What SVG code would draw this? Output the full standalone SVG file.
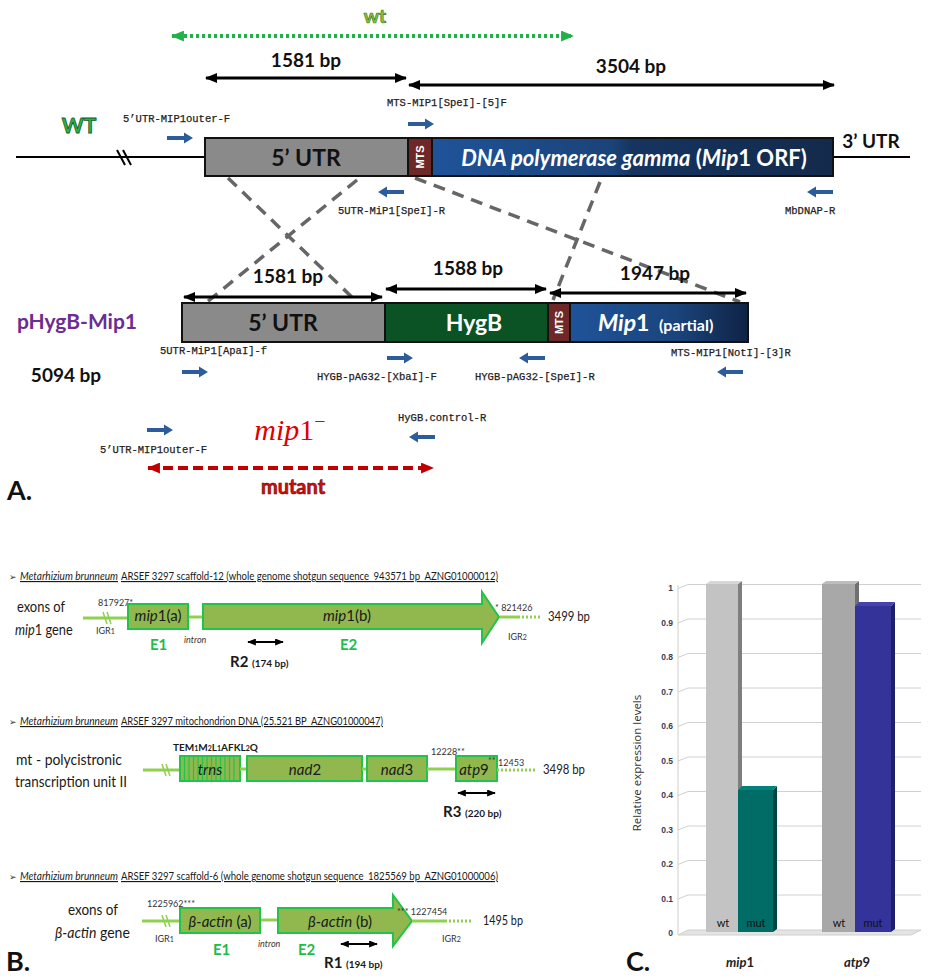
<svg xmlns="http://www.w3.org/2000/svg" width="929" height="980" viewBox="0 0 929 980">
<style>
.bp{font-family:Lato,"Liberation Sans",sans-serif;font-weight:bold;font-size:19px;fill:#111;text-anchor:middle}
.pr{font-family:"Liberation Mono","Courier New",monospace;font-size:10.5px;fill:#222;stroke:#222;stroke-width:0.25}
.box{stroke:#111;stroke-width:2}
.lbl{font-family:Lato,"Liberation Sans",sans-serif;font-weight:bold;text-anchor:middle}
.mts{font-family:"Liberation Sans",sans-serif;font-weight:bold;font-size:11px;fill:#fff;text-anchor:middle}
.dash{stroke:#666;stroke-width:3.5;stroke-dasharray:12 8;fill:none}
.blk{stroke:#000;stroke-width:3;marker-start:url(#ah);marker-end:url(#ah)}
.hdr{font-family:Lato,"Liberation Sans",sans-serif;font-size:11.5px;fill:#1a1a1a;text-decoration:underline}
.bt{font-family:Lato,"Liberation Sans",sans-serif;fill:#1a1a1a}
.gb{fill:#90b84e;stroke:#22c34a;stroke-width:2}
.gl{stroke:#8fd14f;stroke-width:3}
.ex{font-family:Lato,"Liberation Sans",sans-serif;font-weight:bold;font-size:15px;fill:#1ebc4b}
.sm{font-family:Lato,"Liberation Sans",sans-serif;font-size:9px;fill:#333}
.it{font-style:italic}
.tk{font-family:"Liberation Sans",sans-serif;font-weight:bold;font-size:8.5px;fill:#3c3c55;text-anchor:end}
.grid{stroke:#d0d0d0;stroke-width:1;fill:none}
</style>
<defs>
<marker id="ah" viewBox="0 0 12 10" refX="11" refY="5" markerWidth="12" markerHeight="10" markerUnits="userSpaceOnUse" orient="auto-start-reverse"><path d="M0,0 L12,5 L0,10 Z" fill="#000"/></marker>
<marker id="ahs" viewBox="0 0 10 8" refX="9" refY="4" markerWidth="9" markerHeight="7" markerUnits="userSpaceOnUse" orient="auto-start-reverse"><path d="M0,0 L10,4 L0,8 Z" fill="#000"/></marker>
<marker id="ahg" viewBox="0 0 12 10" refX="11" refY="5" markerWidth="13" markerHeight="11" markerUnits="userSpaceOnUse" orient="auto-start-reverse"><path d="M0,0 L12,5 L0,10 Z" fill="#22b04a"/></marker>
<marker id="ahr" viewBox="0 0 12 10" refX="11" refY="5" markerWidth="13" markerHeight="11" markerUnits="userSpaceOnUse" orient="auto-start-reverse"><path d="M0,0 L12,5 L0,10 Z" fill="#c00000"/></marker>
<path id="parR" d="M0,-2 L17,-2 L17,-5.5 L26,0 L17,5.5 L17,2 L0,2 Z" fill="#2c5d9a"/>
<path id="parL" d="M26,-2 L9,-2 L9,-5.5 L0,0 L9,5.5 L9,2 L26,2 Z" fill="#2c5d9a"/>
<linearGradient id="gdna" x1="0" x2="1" y1="0" y2="0"><stop offset="0" stop-color="#1f5399"/><stop offset="0.45" stop-color="#1a4379"/><stop offset="0.5" stop-color="#15345f"/><stop offset="1" stop-color="#132a4c"/></linearGradient>
<linearGradient id="gmip" x1="0" x2="1" y1="0" y2="0"><stop offset="0" stop-color="#1f5399"/><stop offset="0.6" stop-color="#1a447c"/><stop offset="1" stop-color="#0f2344"/></linearGradient>
</defs>
<rect width="929" height="980" fill="#fff"/>

<!-- ===== Panel A ===== -->
<g id="connectors">
<line x1="228" y1="178" x2="357" y2="302" class="dash"/>
<line x1="357" y1="180" x2="207" y2="302" class="dash"/>
<line x1="415" y1="178" x2="740" y2="302" class="dash"/>
<line x1="600" y1="182" x2="553" y2="300" class="dash"/>
</g>

<g id="wt-range">
<text x="375" y="23" font-family="Lato,'Liberation Sans',sans-serif" font-weight="bold" font-size="19" fill="#8dc63f" stroke="#3d7a1c" stroke-width="0.7" text-anchor="middle">wt</text>
<line x1="172" y1="36" x2="573" y2="36" stroke="#22b04a" stroke-width="4" stroke-dasharray="3 3" marker-start="url(#ahg)" marker-end="url(#ahg)"/>
</g>

<g id="wt-sizes">
<text class="bp" x="306" y="67">1581 bp</text>
<line x1="206" y1="78" x2="406" y2="78" class="blk"/>
<text class="bp" x="631" y="73">3504 bp</text>
<line x1="409" y1="85" x2="834" y2="85" class="blk"/>
</g>

<g id="wt-locus">
<text x="79" y="133" font-family="Lato,'Liberation Sans',sans-serif" font-weight="bold" font-size="21" fill="#2bb34b" stroke="#145a22" stroke-width="0.8" text-anchor="middle">WT</text>
<line x1="16" y1="157" x2="205" y2="157" stroke="#000" stroke-width="2"/>
<line x1="117" y1="150" x2="125" y2="165" stroke="#000" stroke-width="2"/>
<line x1="123" y1="150" x2="131" y2="165" stroke="#000" stroke-width="2"/>
<line x1="833" y1="157" x2="910" y2="157" stroke="#000" stroke-width="2"/>
<rect x="205" y="138" width="203" height="38" fill="#8a8a8a" class="box"/>
<text class="lbl" x="306" y="166" font-size="23" fill="#111">5’ UTR</text>
<rect x="408" y="138" width="24" height="38" fill="#6e2828" class="box"/>
<text class="mts" transform="translate(424,157) rotate(-90)">MTS</text>
<rect x="432" y="138" width="401" height="38" fill="url(#gdna)" class="box"/>
<text x="634" y="166" font-family="Lato,'Liberation Sans',sans-serif" font-size="22" font-weight="bold" fill="#fff" text-anchor="middle"><tspan font-style="italic">DNA polymerase gamma</tspan> (<tspan font-style="italic">Mip</tspan>1 ORF)</text>
<text class="lbl" x="871" y="148" font-size="19" fill="#111">3’ UTR</text>
</g>

<g id="wt-primers">
<text class="pr" x="123" y="122">5’UTR-MIP1outer-F</text>
<use href="#parR" x="167" y="138"/>
<text class="pr" x="387" y="106">MTS-MIP1[SpeI]-[5]F</text>
<use href="#parR" x="408" y="124"/>
<use href="#parL" x="378" y="192"/>
<text class="pr" x="338" y="214">5UTR-MiP1[SpeI]-R</text>
<use href="#parL" x="807" y="192"/>
<text class="pr" x="785" y="214">MbDNAP-R</text>
</g>

<g id="plasmid-sizes">
<text class="bp" x="288" y="283">1581 bp</text>
<line x1="184" y1="297" x2="382" y2="297" class="blk"/>
<text class="bp" x="468" y="275">1588 bp</text>
<line x1="386" y1="289" x2="546" y2="289" class="blk"/>
<text class="bp" x="655" y="280">1947 bp</text>
<line x1="550" y1="293" x2="746" y2="293" class="blk"/>
</g>

<g id="plasmid">
<text x="77" y="329" font-family="Lato,'Liberation Sans',sans-serif" font-weight="bold" font-size="21" fill="#6b2d90" text-anchor="middle">pHygB-Mip1</text>
<text class="bp" x="66" y="382" font-size="19">5094 bp</text>
<rect x="182" y="303" width="203" height="39" fill="#8a8a8a" class="box"/>
<text class="lbl" x="283" y="331" font-size="23" fill="#111">5’ UTR</text>
<rect x="385" y="303" width="163" height="39" fill="#0b5225" class="box"/>
<text class="lbl" x="474" y="331" font-size="23" fill="#fff">HygB</text>
<rect x="548" y="303" width="22" height="39" fill="#6e2828" class="box"/>
<text class="mts" transform="translate(563,322.5) rotate(-90)">MTS</text>
<rect x="570" y="303" width="178" height="39" fill="url(#gmip)" class="box"/>
<text x="598" y="331" font-family="Lato,'Liberation Sans',sans-serif" font-weight="bold" font-size="23" fill="#fff"><tspan font-style="italic">Mip</tspan>1 <tspan font-size="16" dx="4">(partial)</tspan></text>
</g>

<g id="plasmid-primers">
<text class="pr" x="160" y="354">5UTR-MiP1[ApaI]-f</text>
<use href="#parR" x="182" y="372"/>
<use href="#parR" x="387" y="358"/>
<text class="pr" x="317" y="380">HYGB-pAG32-[XbaI]-F</text>
<use href="#parL" x="519" y="358"/>
<text class="pr" x="475" y="380">HYGB-pAG32-[SpeI]-R</text>
<text class="pr" x="671" y="356">MTS-MIP1[NotI]-[3]R</text>
<use href="#parL" x="717" y="372"/>
</g>

<g id="mutant">
<use href="#parR" x="147" y="430"/>
<text class="pr" x="100" y="453">5’UTR-MIP1outer-F</text>
<text x="290" y="440" font-family="'Liberation Serif','Times New Roman',serif" font-size="30" fill="#e00000" text-anchor="middle"><tspan font-style="italic">mip</tspan>1<tspan font-size="20" dy="-12">−</tspan></text>
<text class="pr" x="398" y="421">HyGB.control-R</text>
<use href="#parL" x="409" y="437"/>
<line x1="148" y1="468" x2="433" y2="468" stroke="#c00000" stroke-width="4" stroke-dasharray="10 5" marker-start="url(#ahr)" marker-end="url(#ahr)"/>
<text x="293" y="494" font-family="Lato,'Liberation Sans',sans-serif" font-weight="bold" font-size="20" fill="#d01010" stroke="#7a0000" stroke-width="0.6" text-anchor="middle">mutant</text>
<text x="7" y="500" font-family="Lato,'Liberation Sans',sans-serif" font-weight="bold" font-size="27" fill="#111">A.</text>
</g>

<!-- ===== Panel B ===== -->
<g id="mip1-gene">
<text x="9" y="580" font-family="'DejaVu Sans',sans-serif" font-size="9" fill="#333">➢</text>
<text class="hdr it" x="20" y="580" textLength="98" lengthAdjust="spacingAndGlyphs">Metarhizium brunneum</text>
<text class="hdr" x="121" y="580" textLength="377" lengthAdjust="spacingAndGlyphs">ARSEF 3297 scaffold-12 (whole genome shotgun sequence_943571 bp_AZNG01000012)</text>
<text class="bt" x="17" y="612" font-size="16" textLength="48" lengthAdjust="spacingAndGlyphs">exons of</text>
<text class="bt" font-size="16" transform="translate(15,635) scale(0.8,1)"><tspan class="it">mip</tspan>1 gene</text>
<line x1="83" y1="618" x2="128" y2="618" class="gl"/>
<line x1="103" y1="612" x2="107" y2="624" stroke="#8fd14f" stroke-width="1.5"/>
<line x1="107" y1="612" x2="111" y2="624" stroke="#8fd14f" stroke-width="1.5"/>
<text class="sm" x="98" y="606">817927*</text>
<text class="sm" x="96" y="634" font-size="10">IGR<tspan font-size="7">1</tspan></text>
<line x1="188" y1="617" x2="203" y2="617" class="gl"/>
<rect x="128" y="604" width="60" height="25" class="gb"/>
<text class="bt" x="158" y="621" font-size="15" text-anchor="middle"><tspan class="it">mip</tspan>1(a)</text>
<path d="M203,604 L482,604 L482,592 L499,617 L482,643 L482,629 L203,629 Z" class="gb"/>
<text class="bt" x="347" y="621" font-size="15" text-anchor="middle"><tspan class="it">mip</tspan>1(b)</text>
<text class="sm" x="495" y="611">* 821426</text>
<line x1="500" y1="617" x2="518" y2="617" class="gl"/>
<line x1="518" y1="617" x2="540" y2="617" class="gl" stroke-dasharray="2 2"/>
<text class="bt" x="548" y="621" font-size="14" textLength="42" lengthAdjust="spacingAndGlyphs">3499 bp</text>
<text class="sm" x="508" y="640" font-size="10">IGR<tspan font-size="7">2</tspan></text>
<text class="ex" x="150" y="650">E1</text>
<text class="sm it" x="184" y="643" font-size="10">intron</text>
<text class="ex" x="340" y="650">E2</text>
<line x1="248" y1="642" x2="283" y2="642" stroke="#000" stroke-width="2" marker-start="url(#ahs)" marker-end="url(#ahs)"/>
<text class="bt" x="230" y="667" font-size="15" font-weight="bold">R2 <tspan font-size="10">(174 bp)</tspan></text>
</g>

<g id="mt-unit">
<text x="9" y="725" font-family="'DejaVu Sans',sans-serif" font-size="9" fill="#333">➢</text>
<text class="hdr it" x="20" y="725" textLength="98" lengthAdjust="spacingAndGlyphs">Metarhizium brunneum</text>
<text class="hdr" x="121" y="725" textLength="262" lengthAdjust="spacingAndGlyphs">ARSEF 3297 mitochondrion DNA (25.521 BP_AZNG01000047)</text>
<text class="bt" x="16" y="765" font-size="16" textLength="106" lengthAdjust="spacingAndGlyphs">mt - polycistronic</text>
<text class="bt" x="15" y="787" font-size="16" textLength="112" lengthAdjust="spacingAndGlyphs">transcription unit II</text>
<text class="bt" x="173" y="751" font-size="10" font-weight="bold">TEM<tspan font-size="7">1</tspan>M<tspan font-size="7">2</tspan>L<tspan font-size="7">1</tspan>AFKL<tspan font-size="7">2</tspan>Q</text>
<line x1="143" y1="770" x2="180" y2="770" class="gl"/>
<line x1="162" y1="764" x2="166" y2="776" stroke="#8fd14f" stroke-width="1.5"/>
<line x1="166" y1="764" x2="170" y2="776" stroke="#8fd14f" stroke-width="1.5"/>
<rect x="180" y="756" width="60" height="25" class="gb"/>
<path d="M184.5,756V781M189,756V781M193.5,756V781M198,756V781M202.5,756V781M207,756V781M211.5,756V781M216,756V781M220.5,756V781M225,756V781M229.5,756V781M234,756V781" stroke="#22c34a" stroke-width="1.2"/>
<text class="bt it" x="210" y="775" font-size="15" text-anchor="middle">trns</text>
<line x1="240" y1="769" x2="247" y2="769" class="gl"/>
<rect x="247" y="756" width="115" height="25" class="gb"/>
<text class="bt it" x="305" y="775" font-size="15" text-anchor="middle">nad<tspan font-style="normal">2</tspan></text>
<line x1="362" y1="769" x2="367" y2="769" class="gl"/>
<rect x="367" y="756" width="60" height="25" class="gb"/>
<text class="bt it" x="397" y="775" font-size="15" text-anchor="middle">nad<tspan font-style="normal">3</tspan></text>
<line x1="427" y1="769" x2="456" y2="769" class="gl"/>
<text class="sm" x="431" y="755">12228**</text>
<rect x="456" y="756" width="41" height="25" class="gb"/>
<text class="bt it" x="474" y="775" font-size="15" text-anchor="middle">atp<tspan font-style="normal">9</tspan></text>
<text class="sm" x="488" y="764" font-size="8">**</text>
<text class="sm" x="498" y="766">12453</text>
<line x1="497" y1="770" x2="535" y2="770" class="gl" stroke-dasharray="2 2"/>
<text class="bt" x="543" y="774" font-size="14" textLength="42" lengthAdjust="spacingAndGlyphs">3498 bp</text>
<line x1="458" y1="793" x2="495" y2="793" stroke="#000" stroke-width="2" marker-start="url(#ahs)" marker-end="url(#ahs)"/>
<text class="bt" x="443" y="817" font-size="15" font-weight="bold">R3 <tspan font-size="10">(220 bp)</tspan></text>
</g>

<g id="actin-gene">
<text x="9" y="880" font-family="'DejaVu Sans',sans-serif" font-size="9" fill="#333">➢</text>
<text class="hdr it" x="20" y="880" textLength="98" lengthAdjust="spacingAndGlyphs">Metarhizium brunneum</text>
<text class="hdr" x="121" y="880" textLength="377" lengthAdjust="spacingAndGlyphs">ARSEF 3297 scaffold-6 (whole genome shotgun sequence_1825569 bp_AZNG01000006)</text>
<text class="bt" x="68" y="915" font-size="16" textLength="50" lengthAdjust="spacingAndGlyphs">exons of</text>
<text class="bt" font-size="16" transform="translate(55,938) scale(0.88,1)"><tspan class="it">β-actin</tspan> gene</text>
<text class="sm" x="147" y="907">1225962***</text>
<line x1="142" y1="921" x2="180" y2="921" class="gl"/>
<line x1="162" y1="915" x2="166" y2="927" stroke="#8fd14f" stroke-width="1.5"/>
<line x1="166" y1="915" x2="170" y2="927" stroke="#8fd14f" stroke-width="1.5"/>
<text class="sm" x="155" y="942" font-size="10">IGR<tspan font-size="7">1</tspan></text>
<line x1="260" y1="920" x2="278" y2="920" class="gl"/>
<rect x="180" y="908" width="80" height="25" class="gb"/>
<text class="bt" x="220" y="927" font-size="15" text-anchor="middle"><tspan class="it">β-actin</tspan> (a)</text>
<path d="M278,908 L393,908 L393,895 L412,921 L393,946 L393,933 L278,933 Z" class="gb"/>
<text class="bt" x="340" y="927" font-size="15" text-anchor="middle"><tspan class="it">β-actin</tspan> (b)</text>
<text class="sm" x="397" y="915">*** 1227454</text>
<line x1="412" y1="921" x2="445" y2="921" class="gl"/>
<line x1="445" y1="921" x2="473" y2="921" class="gl" stroke-dasharray="2 2"/>
<text class="bt" x="483" y="925" font-size="14" textLength="40" lengthAdjust="spacingAndGlyphs">1495 bp</text>
<text class="sm" x="442" y="942" font-size="10">IGR<tspan font-size="7">2</tspan></text>
<text class="ex" x="213" y="955">E1</text>
<text class="sm it" x="258" y="947" font-size="10">intron</text>
<text class="ex" x="298" y="955">E2</text>
<line x1="341" y1="944" x2="377" y2="944" stroke="#000" stroke-width="2" marker-start="url(#ahs)" marker-end="url(#ahs)"/>
<text class="bt" x="324" y="968" font-size="15" font-weight="bold">R1 <tspan font-size="10">(194 bp)</tspan></text>
<text x="6" y="971" font-family="Lato,'Liberation Sans',sans-serif" font-weight="bold" font-size="27" fill="#111">B.</text>
</g>

<!-- ===== Panel C ===== -->
<g id="chart">
<polygon points="678,935 688,930 921,930 911,935" fill="#e4e4e4" stroke="#cfcfcf"/>
<line x1="678" y1="585" x2="678" y2="935" stroke="#cfcfcf"/>
<path class="grid" d="M678,588.5L688,584.5H921M678,623L688,619H921M678,657.5L688,653.5H921M678,692L688,688H921M678,726.5L688,722.5H921M678,761L688,757H921M678,795.5L688,791.5H921M678,830L688,826H921M678,864.5L688,860.5H921M678,899L688,895H921"/>
<text class="tk" x="673" y="591">1</text>
<text class="tk" x="673" y="626">0.9</text>
<text class="tk" x="673" y="660">0.8</text>
<text class="tk" x="673" y="695">0.7</text>
<text class="tk" x="673" y="729">0.6</text>
<text class="tk" x="673" y="764">0.5</text>
<text class="tk" x="673" y="798">0.4</text>
<text class="tk" x="673" y="833">0.3</text>
<text class="tk" x="673" y="867">0.2</text>
<text class="tk" x="673" y="902">0.1</text>
<text class="tk" x="673" y="936">0</text>
<text transform="translate(641,763) rotate(-90)" font-family="'Open Sans','Liberation Sans',sans-serif" font-size="11.5" fill="#333" text-anchor="middle">Relative expression levels</text>

<rect x="706" y="584" width="32" height="348" fill="#c3c3c3"/>
<polygon points="738,584 742,581 742,929 738,932" fill="#7e7e7e"/>
<polygon points="706,584 710,581 742,581 738,584" fill="#d6d6d6"/>
<rect x="738" y="790" width="35" height="142" fill="#016b66"/>
<polygon points="773,790 777,786 777,929 773,932" fill="#014540"/>
<polygon points="738,790 742,786 777,786 773,790" fill="#02827c"/>
<text x="723" y="927" font-family="Lato,'Liberation Sans',sans-serif" font-size="11" fill="#111" text-anchor="middle">wt</text>
<text x="756" y="927" font-family="Lato,'Liberation Sans',sans-serif" font-size="11" fill="#111" text-anchor="middle">mut</text>

<rect x="822" y="584" width="33" height="348" fill="#a8a8a8"/>
<polygon points="855,584 859,581 859,929 855,932" fill="#707070"/>
<polygon points="822,584 826,581 859,581 855,584" fill="#bdbdbd"/>
<rect x="855" y="606" width="36" height="326" fill="#333399"/>
<polygon points="891,606 895,602 895,929 891,932" fill="#1f1f6b"/>
<polygon points="855,606 859,602 895,602 891,606" fill="#4444aa"/>
<text x="839" y="927" font-family="Lato,'Liberation Sans',sans-serif" font-size="11" fill="#111" text-anchor="middle">wt</text>
<text x="873" y="927" font-family="Lato,'Liberation Sans',sans-serif" font-size="11" fill="#111" text-anchor="middle">mut</text>

<text x="740" y="967" font-family="Lato,'Liberation Sans',sans-serif" font-size="13" font-weight="bold" fill="#222" text-anchor="middle"><tspan font-style="italic">mip</tspan>1</text>
<text x="857" y="967" font-family="Lato,'Liberation Sans',sans-serif" font-size="13" font-weight="bold" fill="#222" text-anchor="middle"><tspan font-style="italic">atp</tspan>9</text>
<text x="626" y="971" font-family="Lato,'Liberation Sans',sans-serif" font-weight="bold" font-size="27" fill="#111">C.</text>
</g>
</svg>
